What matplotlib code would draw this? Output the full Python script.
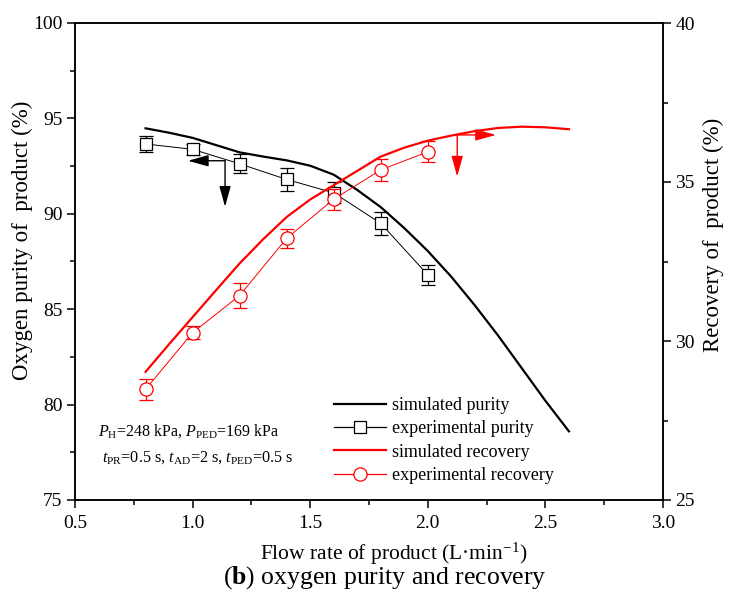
import matplotlib
matplotlib.use("Agg")
import matplotlib.pyplot as plt
from matplotlib.lines import Line2D
from matplotlib.ticker import MultipleLocator

plt.rcParams['font.family'] = ['Liberation Serif', 'DejaVu Serif']
plt.rcParams['mathtext.fontset'] = 'custom'
plt.rcParams['mathtext.rm'] = 'Liberation Serif'
plt.rcParams['mathtext.it'] = 'Liberation Serif:italic'
plt.rcParams['mathtext.bf'] = 'Liberation Serif:bold'

# simulated curves
sim_flow = [0.8, 0.9, 1.0, 1.1, 1.2, 1.3, 1.4, 1.5, 1.6, 1.7,
            1.8, 1.9, 2.0, 2.1, 2.2, 2.3, 2.4, 2.5, 2.6]
sim_purity = [94.48, 94.25, 93.98, 93.6, 93.22, 93.0, 92.8, 92.52, 92.05, 91.25,
              90.35, 89.25, 88.05, 86.7, 85.2, 83.6, 81.9, 80.2, 78.6]
sim_recovery = [29.03, 29.9, 30.75, 31.6, 32.44, 33.2, 33.9, 34.45, 34.9, 35.35,
                35.8, 36.08, 36.3, 36.46, 36.6, 36.7, 36.74, 36.72, 36.66]

# experimental points
exp_flow = [0.8, 1.0, 1.2, 1.4, 1.6, 1.8, 2.0]
exp_purity = [93.66, 93.38, 92.62, 91.8, 91.1, 89.5, 86.8]
exp_purity_err = [0.42, 0.3, 0.5, 0.6, 0.55, 0.6, 0.54]
exp_recovery = [28.48, 30.26, 31.43, 33.23, 34.46, 35.38, 35.95]
exp_recovery_err = [0.32, 0.2, 0.38, 0.3, 0.33, 0.34, 0.33]

W, H = 732, 595
fig = plt.figure(figsize=(W / 100, H / 100), dpi=100)
ax = fig.add_axes([75 / W, 1 - 500 / H, 588 / W, 477 / H])
ax2 = ax.twinx()

fs = 14

# purity (left axis)
ax.plot(sim_flow, sim_purity, color='black', lw=1.6)
ax.errorbar(exp_flow, exp_purity, yerr=exp_purity_err, color='black', lw=0.7,
            marker='s', ms=8, mfc='white', mec='black', mew=0.9,
            ecolor='black', elinewidth=0.9, capsize=5, capthick=0.9)

# recovery (right axis)
ax2.plot(sim_flow, sim_recovery, color='red', lw=1.6)
ax2.errorbar(exp_flow, exp_recovery, yerr=exp_recovery_err, color='red', lw=0.7,
             marker='o', ms=9.5, mfc='white', mec='red', mew=0.9,
             ecolor='red', elinewidth=0.9, capsize=5, capthick=0.9)

# axis pointers
arw = dict(arrowstyle='-|>,head_length=0.9,head_width=0.25', lw=1.0, shrinkA=0, shrinkB=0,
           mutation_scale=14)
ax.annotate('', xy=(0.98, 92.78), xytext=(1.138, 92.78), arrowprops=dict(arw, color='black'))
ax.annotate('', xy=(1.138, 90.37), xytext=(1.138, 92.78), arrowprops=dict(arw, color='black'))
ax2.annotate('', xy=(2.29, 36.48), xytext=(2.125, 36.48), arrowprops=dict(arw, color='red'))
ax2.annotate('', xy=(2.125, 35.17), xytext=(2.125, 36.48), arrowprops=dict(arw, color='red'))

ax.set_xlim(0.5, 3.0)
ax.set_ylim(75, 100)
ax2.set_ylim(25, 40)
ax.xaxis.set_major_locator(MultipleLocator(0.5))
ax.xaxis.set_minor_locator(MultipleLocator(0.25))
ax.yaxis.set_major_locator(MultipleLocator(5))
ax.yaxis.set_minor_locator(MultipleLocator(2.5))
ax2.yaxis.set_major_locator(MultipleLocator(5))
ax2.yaxis.set_minor_locator(MultipleLocator(2.5))

for a in (ax, ax2):
    a.tick_params(which='major', direction='out', length=6, width=1.1, labelsize=fs, pad=3)
    a.tick_params(which='minor', direction='out', length=3.5, width=1.1)
    for s in a.spines.values():
        s.set_linewidth(1.1)
ax.tick_params(axis='x', which='major', pad=5)

# axis titles
fig.text(22 / W, 1 - 240 / H, 'Oxygen purity of  product (%)', fontsize=16.5,
         rotation=90, ha='center', va='center')
fig.text(713 / W, 1 - 235 / H, 'Recovery of  product (%)', fontsize=16.5,
         rotation=90, ha='center', va='center')
fig.text(394 / W, 1 - 560 / H, 'Flow rate of product (L\u00b7min$^{-1}$)', fontsize=15.5,
         ha='center', va='baseline')

# legend
handles = [
    Line2D([], [], color='black', lw=1.6),
    Line2D([], [], color='black', lw=0.9, marker='s', ms=8, mfc='white', mew=0.9),
    Line2D([], [], color='red', lw=1.6),
    Line2D([], [], color='red', lw=0.9, marker='o', ms=9.5, mfc='white', mew=0.9),
]
labels = ['simulated purity', 'experimental purity', 'simulated recovery', 'experimental recovery']
ax.legend(handles, labels, loc='upper left', bbox_to_anchor=(325 / W, 1 - 388 / H),
          bbox_transform=fig.transFigure, frameon=False, fontsize=13,
          handlelength=2.9, handletextpad=0.3, labelspacing=0.35, borderpad=0)

# operating conditions
fig.text(98 / W, 1 - 436 / H, '$P_{\\rm H}$=248 kPa, $P_{\\rm PED}$=169 kPa',
         fontsize=11.5, va='baseline')
fig.text(102 / W, 1 - 462 / H, '$t_{\\rm PR}$=0.5 s, $t_{\\rm AD}$=2 s, $t_{\\rm PED}$=0.5 s',
         fontsize=11.7, va='baseline')

# caption
fig.text(385 / W, 1 - 584 / H, '($\\mathbf{b}$) oxygen purity and recovery',
         fontsize=18.5, ha='center', va='baseline')

fig.savefig('out.png', dpi=100)
